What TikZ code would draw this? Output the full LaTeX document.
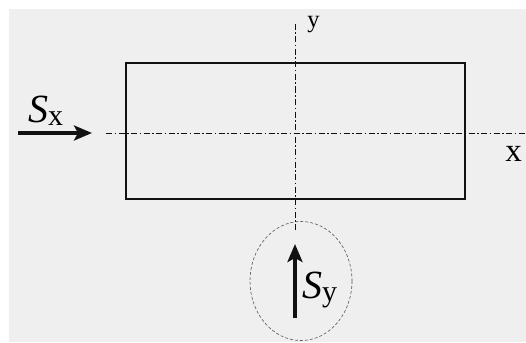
\documentclass[tikz,border=0pt]{standalone}
\usepackage{fontspec}
\setmainfont{Liberation Serif}
\usetikzlibrary{arrows.meta}
\definecolor{FigureBack}{HTML}{EFEFEF}
\definecolor{FigureLine}{HTML}{111111}
\definecolor{FigureDash}{HTML}{555555}
\tikzset{
  axisline/.style={FigureLine,line width=0.8pt,dash pattern=on 6pt off 2.5pt on 1.5pt off 2.5pt},
  loadarrow/.style={FigureLine,line width=4pt,-{Stealth[length=18pt,width=15pt,inset=4pt]}},
  loadlabel/.style={inner sep=0pt,anchor=base west,font=\fontsize{40}{40}\selectfont},
  axislabel/.style={inner sep=0pt,anchor=base},
}
\newcommand{\loadsub}[1]{{\fontsize{30}{30}\selectfont\upshape\raisebox{-3pt}{#1}}}

\begin{document}
\begin{tikzpicture}[x=1pt,y=-1pt,line join=miter]
  \useasboundingbox (0,0) rectangle (526,342);
  \fill[FigureBack] (9,9) rectangle (526,342);
  % section
  \draw[FigureLine,line width=1.6pt] (126,63) rectangle (465,199);
  % axes
  \coordinate (XL) at (106,133);\coordinate (XR) at (526,133);
  \coordinate (YT) at (295,24);\coordinate (YB) at (295,232);
  \draw[axisline] (XL)--(XR);\draw[axisline] (YT)--(YB);
  \node[axislabel,font=\fontsize{33}{33}\selectfont] (xlab) at (513.5,161) {x};
  \node[axislabel,font=\fontsize{24.5}{24.5}\selectfont] (ylab) at (313.5,28) {y};
  % loads
  \coordinate (SxA) at (18,133);\coordinate (SxB) at (92,133);
  \draw[loadarrow] (SxA)--(SxB);
  \node[loadlabel] (sx) at (28,122) {\itshape S\loadsub{x}};
  \coordinate (Sc) at (301,281);
  \draw[FigureDash,line width=.6pt,dash pattern=on 3pt off 2pt] (Sc) ellipse [x radius=51,y radius=59.5];
  \coordinate (SyA) at (295,318);\coordinate (SyB) at (295,244);
  \draw[loadarrow] (SyA)--(SyB);
  \node[loadlabel] (sy) at (302,298) {\itshape S\loadsub{y}};
\end{tikzpicture}
\end{document}
